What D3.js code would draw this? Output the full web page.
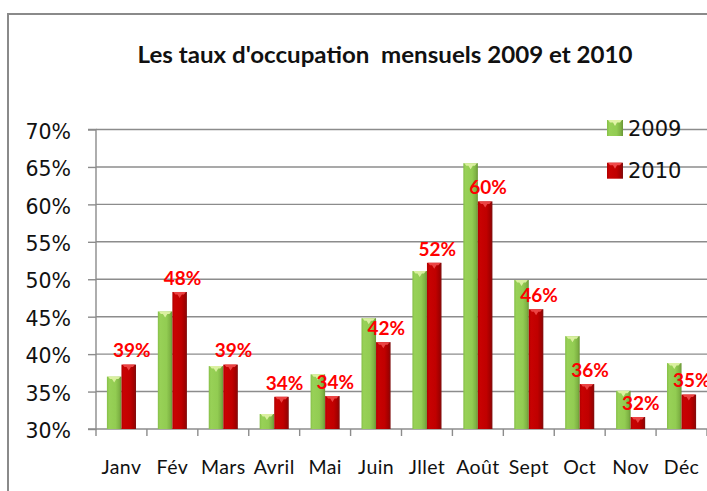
<!DOCTYPE html>
<html>
<head>
<meta charset="utf-8">
<script src="https://cdn.jsdelivr.net/npm/d3@7"></script>
<style>
  html, body { margin: 0; padding: 0; background: #fff; }
  svg { display: block; }
</style>
</head>
<body>
<script>
// ---- data ----
const months = ["Janv", "Fév", "Mars", "Avril", "Mai", "Juin", "Jllet", "Août", "Sept", "Oct", "Nov", "Déc"];
const seriesNames = ["2009", "2010"];
const values2009 = [0.370, 0.457, 0.384, 0.320, 0.373, 0.448, 0.511, 0.655, 0.499, 0.424, 0.351, 0.388];
const values2010 = [0.386, 0.483, 0.386, 0.343, 0.344, 0.416, 0.522, 0.604, 0.460, 0.360, 0.316, 0.346];
const yTicks = [0.30, 0.35, 0.40, 0.45, 0.50, 0.55, 0.60, 0.65, 0.70];
const titleText = "Les taux d'occupation  mensuels 2009 et 2010";

const W = 707, H = 491;
const plot = { left: 96, right: 707, top: 129.5, bottom: 429 };

const svg = d3.select("body").append("svg").attr("width", W).attr("height", H);
svg.append("rect").attr("width", W).attr("height", H).attr("fill", "#fff");

// outer chart border
svg.append("rect").attr("x", 8).attr("y", 14).attr("width", W + 10).attr("height", H + 10)
  .attr("fill", "none").attr("stroke", "#8a8a8a").attr("stroke-width", 2);

const defs = svg.append("defs");
function grad(id, stops) {
  const g = defs.append("linearGradient").attr("id", id).attr("x1", "0").attr("x2", "1").attr("y1", "0").attr("y2", "0");
  stops.forEach(s => g.append("stop").attr("offset", s[0]).attr("stop-color", s[1]));
}
grad("g2009", [[0, "#86bf48"], [0.15, "#98d157"], [0.6, "#92cc52"], [0.85, "#7fb344"], [1, "#6a9636"]]);
grad("g2010", [[0, "#b00000"], [0.15, "#c80202"], [0.6, "#c00000"], [0.85, "#a20000"], [1, "#7e1010"]]);
const fills = { "2009": "url(#g2009)", "2010": "url(#g2010)" };
const caps = { "2009": "#e2f4a8", "2010": "#f04a4a" };

const x0 = d3.scaleBand().domain(months).range([plot.left, plot.right]).padding(0);
const x1 = d3.scaleBand().domain(seriesNames).range([0, x0.bandwidth()]).paddingInner(0).paddingOuter(0.75);
const y = d3.scaleLinear().domain([0.30, 0.70]).range([plot.bottom, plot.top]);

// gridlines
svg.append("g").selectAll("line").data(yTicks.slice(1)).join("line")
  .attr("x1", plot.left).attr("x2", plot.right)
  .attr("y1", d => y(d)).attr("y2", d => y(d))
  .attr("stroke", "#8c8c8c").attr("stroke-width", 1.4);

// y axis
const yAxis = d3.axisLeft(y).tickValues(yTicks).tickFormat(d3.format(".0%")).tickSize(8).tickPadding(17);
const gy = svg.append("g").attr("transform", `translate(${plot.left},0)`).call(yAxis);
gy.select(".domain").attr("stroke", "#8c8c8c").attr("stroke-width", 1.4).attr("d", `M-8,${plot.top}H0V${plot.bottom}H-8`);
gy.selectAll(".tick line").attr("stroke", "#8c8c8c").attr("stroke-width", 1.4);
gy.selectAll(".tick text").attr("font-family", "DejaVu Sans").attr("font-size", 20.5).attr("fill", "#111").attr("dy", "0.42em");

// x axis
const xAxis = d3.axisBottom(x0).tickSize(0).tickPadding(0);
const gx = svg.append("g").attr("transform", `translate(0,${plot.bottom})`).call(xAxis);
gx.select(".domain").attr("stroke", "#8c8c8c").attr("stroke-width", 1.4).attr("d", `M${plot.left},0H${plot.right}`);
gx.selectAll(".tick text").attr("font-family", "Lato").attr("font-size", 19.5).attr("fill", "#111")
  .attr("y", 45).attr("dy", 0).style("letter-spacing", "0.4px");
// category boundary ticks
const boundaries = months.map(m => x0(m)).concat([plot.right]);
gx.append("g").selectAll("line").data(boundaries).join("line")
  .attr("x1", d => d).attr("x2", d => d).attr("y1", 0).attr("y2", 7)
  .attr("stroke", "#8c8c8c").attr("stroke-width", 1.4);

// bars
const rows = months.map((m, i) => ({ month: m, vals: [
  { key: "2009", v: values2009[i] }, { key: "2010", v: values2010[i] } ] }));

const groups = svg.append("g").selectAll("g").data(rows).join("g")
  .attr("transform", d => `translate(${x0(d.month)},0)`);

groups.selectAll("rect.bar").data(d => d.vals).join("rect").attr("class", "bar")
  .attr("x", d => x1(d.key)).attr("width", x1.bandwidth())
  .attr("y", d => y(d.v)).attr("height", d => plot.bottom - y(d.v))
  .attr("fill", d => fills[d.key]);

// top cap highlight
groups.selectAll("path.cap").data(d => d.vals).join("path").attr("class", "cap")
  .attr("d", d => {
    const xl = x1(d.key), w = x1.bandwidth(), t = y(d.v);
    return `M${xl + 1},${t}H${xl + w - 1}L${xl + w - 3},${t + 2.5}H${xl + w * 0.65}L${xl + w * 0.5},${t + 6}L${xl + w * 0.35},${t + 2.5}H${xl + 3}Z`;
  })
  .attr("fill", d => caps[d.key]).attr("opacity", 0.9);

// data labels (2010)
groups.append("text")
  .datum(d => d.vals[1])
  .attr("x", d => x1(d.key) + x1.bandwidth() / 2 + 3)
  .attr("y", d => y(d.v) - 14)
  .attr("dy", "0.36em")
  .attr("text-anchor", "middle")
  .attr("font-family", "Lato").attr("font-weight", 700).attr("font-size", 19)
  .attr("fill", "#ff0000")
  .text(d => d3.format(".0%")(d.v));

// title
svg.append("text")
  .attr("x", 385).attr("y", 63)
  .attr("text-anchor", "middle")
  .attr("font-family", "Lato").attr("font-weight", 700).attr("font-size", 23)
  .attr("textLength", 495).attr("lengthAdjust", "spacingAndGlyphs")
  .attr("fill", "#111")
  .style("white-space", "pre")
  .text(titleText);

// legend
const legend = svg.append("g").selectAll("g").data(seriesNames).join("g")
  .attr("transform", (d, i) => `translate(607,${120 + i * 42.7})`);
legend.append("rect").attr("width", 16).attr("height", 16).attr("fill", d => fills[d]);
legend.append("path").attr("d", "M1,0H15L13,2.5H10L8,6L6,2.5H3Z").attr("fill", d => caps[d]);
legend.append("text").attr("x", 21).attr("y", 8).attr("dy", "0.36em")
  .attr("font-family", "DejaVu Sans").attr("font-size", 21).attr("fill", "#111")
  .text(d => d);
</script>
</body>
</html>
